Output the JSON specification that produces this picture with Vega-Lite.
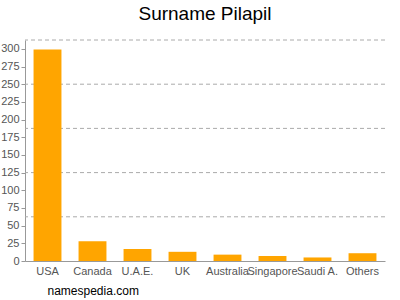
{
  "$schema": "https://vega.github.io/schema/vega-lite/v6.json",
  "autosize": "none",
  "width": 360,
  "height": 221,
  "padding": {"left": 25, "top": 40, "right": 15, "bottom": 39},
  "title": {"text": "Surname Pilapil", "fontSize": 19, "font": "Liberation Sans", "fontWeight": "normal", "color": "#000", "offset": 16, "anchor": "middle"},
  "config": {"view": {"stroke": null}, "axis": {"labelFont": "Liberation Sans", "labelFontSize": 11, "labelColor": "#555", "domainColor": "#999", "tickColor": "#999"}},
  "datasets": {
    "bars": [
      {"country": "USA", "count": 299},
      {"country": "Canada", "count": 28},
      {"country": "U.A.E.", "count": 17},
      {"country": "UK", "count": 13},
      {"country": "Australia", "count": 9},
      {"country": "Singapore", "count": 7},
      {"country": "Saudi A.", "count": 5},
      {"country": "Others", "count": 11}
    ],
    "grid": [{"v": 62.5}, {"v": 125}, {"v": 187.5}, {"v": 250}, {"v": 312.5}]
  },
  "layer": [
    {
      "data": {"name": "grid"},
      "mark": {"type": "rule", "color": "#aaa", "strokeDash": [4, 3], "strokeWidth": 1},
      "encoding": {"y": {"field": "v", "type": "quantitative", "scale": {"domain": [0, 312.5], "nice": false},
              "axis": {"values": [0, 25, 50, 75, 100, 125, 150, 175, 200, 225, 250, 275, 300], "grid": false, "title": null, "tickSize": 4, "labelPadding": 2}}}
    },
    {
      "data": {"name": "bars"},
      "mark": {"type": "bar", "color": "#FFA500"},
      "encoding": {
        "x": {"field": "country", "type": "nominal", "sort": null,
              "scale": {"paddingInner": 0.38, "paddingOuter": 0.19},
              "axis": {"labelAngle": 0, "title": "namespedia.com", "titleFont": "Liberation Sans", "titleFontSize": 12, "titleFontWeight": "normal", "titleColor": "#000", "titleAnchor": "start", "titleAlign": "left", "titleBaseline": "top", "titleX": 22, "titleY": 24, "ticks": false, "labelPadding": 4}},
        "y": {"field": "count", "type": "quantitative", "scale": {"domain": [0, 312.5], "nice": false},
              "axis": {"values": [0, 25, 50, 75, 100, 125, 150, 175, 200, 225, 250, 275, 300], "grid": false, "title": null, "tickSize": 4, "labelPadding": 2}}
      }
    }
  ]
}
